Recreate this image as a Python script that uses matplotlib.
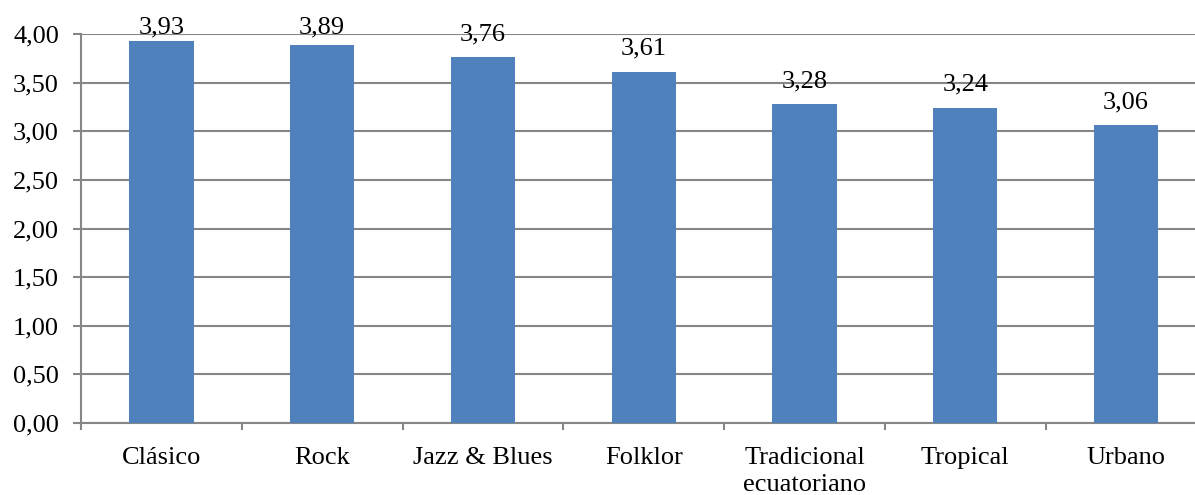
import matplotlib
matplotlib.use("Agg")
import matplotlib.pyplot as plt
from matplotlib.ticker import FixedLocator, NullFormatter

categories = ["Clásico", "Rock", "Jazz & Blues", "Folklor",
              "Tradicional\necuatoriano", "Tropical", "Urbano"]
values = [3.93, 3.89, 3.76, 3.61, 3.28, 3.24, 3.06]
y_ticks = [0.0, 0.5, 1.0, 1.5, 2.0, 2.5, 3.0, 3.5, 4.0]

plt.rcParams["font.family"] = ["Liberation Serif", "DejaVu Serif"]

W, H = 1195, 495
FS = 19
fig = plt.figure(figsize=(W / 100, H / 100), dpi=100)
left, right, top, bottom = 81, 1206.5, 34, 423
ax = fig.add_axes([left / W, 1 - bottom / H, (right - left) / W, (bottom - top) / H])

bar_color = "#4F81BD"
grid_color = "#868686"
x = list(range(len(categories)))
ax.bar(x, values, width=0.4, color=bar_color, zorder=3)

# value labels sit above each bar, but never rise above the top gridline
y_max = 4.0
label_gap = 0.175
for xi, v in zip(x, values):
    ax.text(xi, min(v + label_gap, y_max + 0.007), f"{v:.2f}".replace(".", ","),
            ha="center", va="baseline", fontsize=FS, color="black", zorder=4,
            clip_on=False)

ax.set_xlim(-0.5, len(categories) - 0.5)
ax.set_ylim(0, y_max)

ax.set_yticks(y_ticks)
ax.set_yticklabels([f"{t:.2f}".replace(".", ",") for t in y_ticks], fontsize=FS)
ax.yaxis.grid(True, color=grid_color, linewidth=1.5, zorder=0)
ax.set_axisbelow(True)

ax.set_xticks(x)
ax.set_xticklabels(categories, fontsize=FS, linespacing=1.33)
ax.tick_params(axis="x", which="major", length=0, pad=17)
ax.xaxis.set_minor_locator(FixedLocator([i + 0.5 for i in range(-1, len(categories))]))
ax.xaxis.set_minor_formatter(NullFormatter())
ax.tick_params(axis="x", which="minor", length=5, width=1.5, color=grid_color, direction="out")
ax.tick_params(axis="y", length=5.8, width=1.5, color=grid_color, direction="out", pad=10)

for side in ["top", "right"]:
    ax.spines[side].set_visible(False)
for side in ["left", "bottom"]:
    ax.spines[side].set_color(grid_color)
    ax.spines[side].set_linewidth(1.5)

fig.savefig("out.png", dpi=100)
